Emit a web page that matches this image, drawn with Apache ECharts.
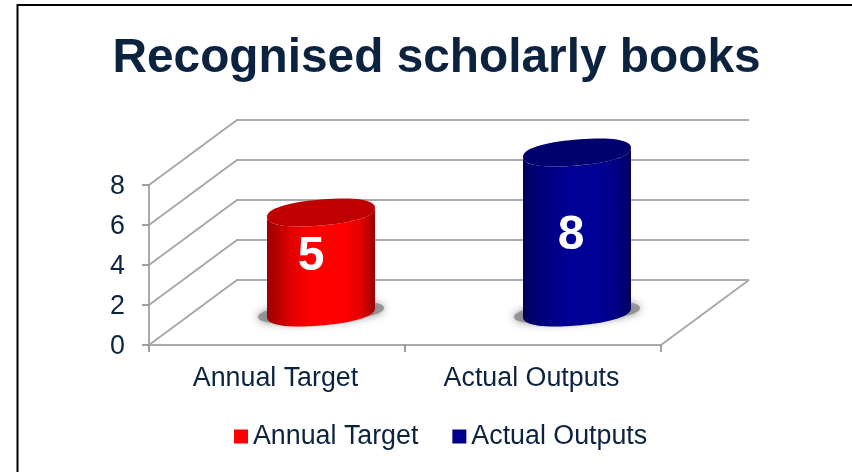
<!DOCTYPE html>
<html><head><meta charset="utf-8">
<style>html,body{margin:0;padding:0;background:#fff}#c{width:852px;height:472px}</style>
<script src="https://cdn.jsdelivr.net/npm/echarts@6/dist/echarts.min.js"></script>
</head><body><div id="c"></div>
<script>
const categories = ['Annual Target', 'Actual Outputs'];
const annualTarget = [5, null];
const actualOutputs = [null, 8];
const yTicks = [0, 2, 4, 6, 8];
const titleText = 'Recognised scholarly books';

const TEXT = '#0c2340', FONT = '"Liberation Sans", Arial, sans-serif';
const DX = 88, DY = 65;          // depth of the 3-D box, px
const GRID = '#a9a9ad';

function wallItem(params, api) {
  const v = api.value(0);
  const a = api.coord([0, v]), g = api.coord([1, v]);
  const left = a[0] - api.size([1, 0])[0] / 2;
  const right = g[0] + api.size([1, 0])[0] / 2;
  const y = a[1];
  const pts = [[left, y], [left + DX, y - DY], [right + DX, y - DY]];
  const ch = [{ type: 'polyline', shape: { points: pts }, style: { stroke: GRID, lineWidth: 2, fill: null } }];
  if (v === 0) ch.push({ type: 'line', shape: { x1: right, y1: y, x2: right + DX, y2: y - DY }, style: { stroke: GRID, lineWidth: 2 } });
  return { type: 'group', children: ch };
}

function ellipsePts(cx, cy, a, b, s, t0, t1) {
  const out = [], p = 0.88;
  const sp = v => Math.sign(v) * Math.pow(Math.abs(v), p);
  for (let i = 0; i <= 64; i++) {
    const t = t0 + (t1 - t0) * i / 64;
    const c = sp(Math.cos(t)), n = sp(Math.sin(t));
    out.push([cx + a * c, cy - s * c + b * n]);
  }
  return out;
}

function cylinder(colors, labelDx, labelDy) {
  return function (params, api) {
    const idx = api.value(0), val = api.value(1);
    const base = api.coord([idx, 0]), top = api.coord([idx, val]);
    const cx = base[0] + DX / 2;
    const by = base[1] - DY / 2, ty = top[1] - DY / 2;
    const a = 54, b = 13, s = 4.5;
    const body = ellipsePts(cx, ty, a, b, s, Math.PI, 0).concat(ellipsePts(cx, by, a, b, s, 0, Math.PI));
    const fill = new echarts.graphic.LinearGradient(0, 0, 1, 0, [
      { offset: 0, color: colors.edge }, { offset: 0.22, color: colors.mid },
      { offset: 0.42, color: colors.main }, { offset: 0.72, color: colors.main },
      { offset: 0.88, color: colors.mid }, { offset: 1, color: colors.edge }]);
    return { type: 'group', children: [
      { type: 'polygon', shape: { points: ellipsePts(cx, by, a + 9, b - 3, s, 0, Math.PI * 2) },
        style: { fill: 'rgba(135,135,135,0.8)', shadowBlur: 8, shadowColor: 'rgba(110,110,110,0.9)' } },
      { type: 'polygon', shape: { points: body }, style: { fill: fill } },
      { type: 'polygon', shape: { points: ellipsePts(cx, ty, a, b, s, 0, Math.PI * 2) }, style: { fill: colors.top } },
      { type: 'text', x: cx + labelDx, y: ty + labelDy, style: { text: String(val), fill: '#fff',
        font: 'bold 48px ' + FONT, align: 'center', verticalAlign: 'middle' } }
    ] };
  };
}

const pairs = arr => arr.map((v, i) => [i, v]).filter(p => p[1] !== null);

const option = {
  animation: false,
  backgroundColor: '#fff',
  title: { text: titleText, left: 431.5, top: 30, textAlign: 'center',
    textStyle: { color: TEXT, fontFamily: FONT, fontWeight: 'bold', fontSize: 47.8 } },
  graphic: [{ type: 'polyline', shape: { points: [[17.5, 480], [17.5, 5], [860, 5]] }, silent: true, z: -10,
    style: { fill: 'none', stroke: '#000', lineWidth: 2 } }],
  legend: { left: 229, top: 418, itemWidth: 14, itemHeight: 14, itemGap: 34, icon: 'rect',
    data: ['Annual Target', 'Actual Outputs'],
    textStyle: { color: TEXT, fontFamily: FONT, fontSize: 26.8, padding: 0 } },
  grid: { left: 149, right: 191, top: 185, bottom: 127 },
  xAxis: { type: 'category', data: categories,
    axisLine: { lineStyle: { color: GRID, width: 2 } },
    axisTick: { show: true, length: 7, lineStyle: { color: '#808084', width: 1.5 } },
    axisLabel: { color: TEXT, fontFamily: FONT, fontSize: 26.8, margin: 20, padding: [0, 3, 0, 0] } },
  yAxis: { type: 'value', min: 0, max: 8, interval: 2,
    splitLine: { show: false },
    axisLine: { show: true, lineStyle: { color: GRID, width: 2 } },
    axisTick: { show: true, length: 7, lineStyle: { color: '#808084', width: 1.5 } },
    axisLabel: { margin: 24, formatter: v => '{t|' + v + '}',
      rich: { t: { color: TEXT, fontFamily: FONT, fontSize: 26.8, padding: [4, 0, 0, 0] } } } },
  series: [
    { type: 'custom', name: 'walls', silent: true, z: 1, data: yTicks.map(v => [v]), encode: { y: 0 }, renderItem: wallItem },
    { type: 'custom', name: 'Annual Target', z: 3, itemStyle: { color: '#ff0000' }, data: pairs(annualTarget),
      encode: { x: 0, y: 1 },
      renderItem: cylinder({ edge: '#9a0000', mid: '#e00000', main: '#ff0000', top: '#c00000' }, -10, 44) },
    { type: 'custom', name: 'Actual Outputs', z: 3, itemStyle: { color: '#00008b' }, data: pairs(actualOutputs),
      encode: { x: 0, y: 1 },
      renderItem: cylinder({ edge: '#00005c', mid: '#000080', main: '#000094', top: '#00006e' }, -6, 83) }
  ]
};
echarts.init(document.getElementById('c')).setOption(option);
</script></body></html>
